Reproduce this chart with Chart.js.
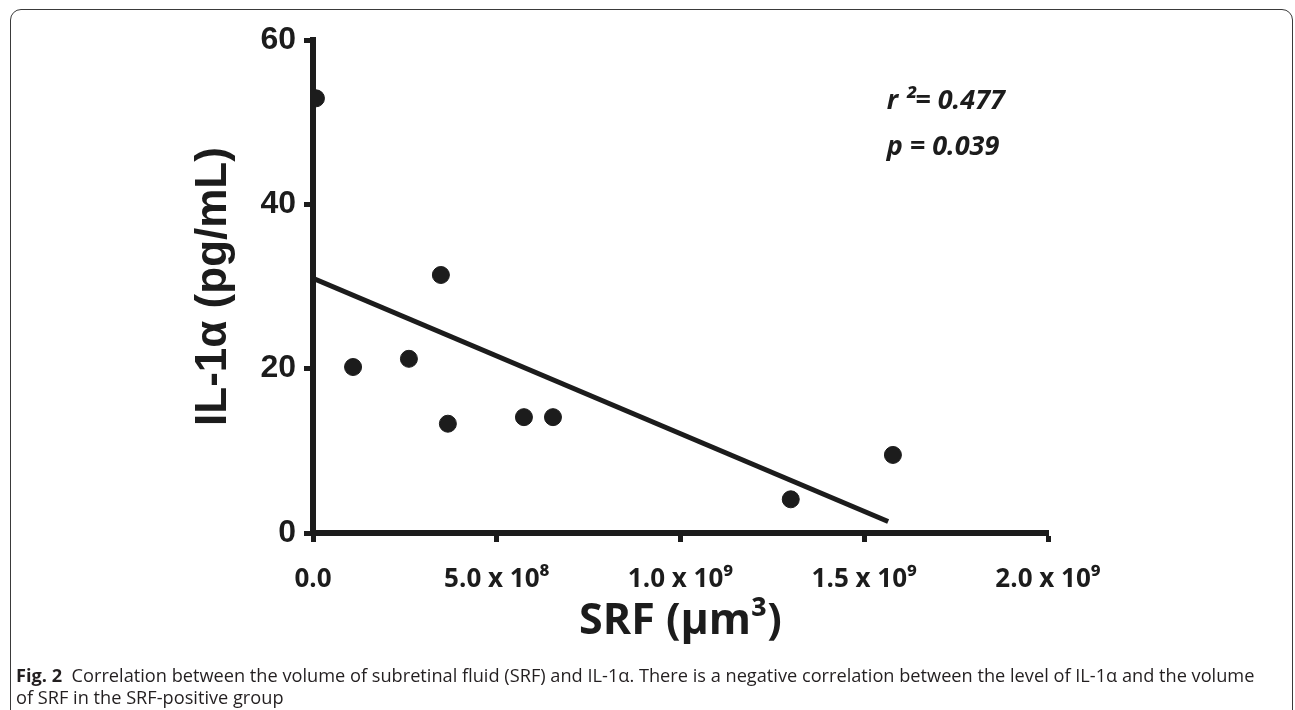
<!DOCTYPE html>
<html>
<head>
<meta charset="utf-8">
<script src="https://cdn.jsdelivr.net/npm/chart.js@4"></script>
<style>
  body { margin: 0; background: #fff; width: 1295px; height: 710px; overflow: hidden; position: relative; }
  #frame { position: absolute; left: 10px; top: 9px; width: 1283px; height: 800px;
           border: 1.4px solid #3a3a3a; border-radius: 11px; box-sizing: border-box; }
  #wrap { position: absolute; left: 0; top: 0; width: 1295px; height: 710px; }
  #caption { position: absolute; left: 16px; top: 664px; font-family: "Open Sans", sans-serif;
             font-size: 18.2px; line-height: 22px; color: #231f20; white-space: nowrap; }
</style>
</head>
<body>
<div id="frame"></div>
<div id="wrap"><canvas id="scatterChart" width="1295" height="710"></canvas></div>
<div id="caption"><b>Fig. 2</b>&nbsp; Correlation between the volume of subretinal fluid (SRF) and IL-1α. There is a negative correlation between the level of IL-1α and the volume<br>of SRF in the SRF-positive group</div>
<script>
// SRF volume (µm³) vs IL-1α (pg/mL)
const srfVolume = [0.008e9, 0.109e9, 0.261e9, 0.348e9, 0.367e9, 0.574e9, 0.653e9, 1.30e9, 1.578e9]
const il1a = [52.9, 20.2, 21.2, 31.4, 13.3, 14.1, 14.1, 4.1, 9.5]

// regression line end points
const fitX = [0, 1.565e9]
const fitY = [31.0, 1.4]

const xTickLabels = ['0.0', '5.0 x 10⁸', '1.0 x 10⁹', '1.5 x 10⁹', '2.0 x 10⁹']
const yTickLabels = ['0', '20', '40', '60']
const statLines = ['r ²= 0.477', 'p = 0.039']

const ink = '#1c1c1c'

const statsText = {
  id: 'statsText',
  afterDraw(chart) {
    const {ctx, scales: {x, y}} = chart
    ctx.save()
    ctx.fillStyle = ink
    ctx.font = 'italic bold 27px "Open Sans"'
    ctx.textBaseline = 'alphabetic'
    ctx.fillText(statLines[0], x.getPixelForValue(1.55e9) + 4, y.getPixelForValue(51.6))
    ctx.fillText(statLines[1], x.getPixelForValue(1.55e9) + 4, y.getPixelForValue(46.0))
    ctx.restore()
  }
}

const ctx = document.getElementById('scatterChart').getContext('2d')

new Chart(ctx, {
  type: 'scatter',
  data: {
    datasets: [{
      data: srfVolume.map((v, i) => ({x: v, y: il1a[i]})),
      backgroundColor: ink,
      borderColor: ink,
      pointRadius: 8.5,
      borderWidth: 1
    }, {
      type: 'line',
      data: fitX.map((v, i) => ({x: v, y: fitY[i]})),
      borderColor: ink,
      borderWidth: 5,
      pointRadius: 0,
      fill: false
    }]
  },
  options: {
    responsive: false,
    animation: false,
    layout: {padding: {left: 0, top: 40, right: 247, bottom: 0}},
    plugins: {legend: {display: false}, tooltip: {enabled: false}},
    scales: {
      x: {
        type: 'linear',
        min: 0,
        max: 2e9,
        afterFit: (scale) => { scale.height = 177 },
        afterBuildTicks: (scale) => {
          scale.ticks = xTickLabels.map((t, i) => ({value: i * 5e8}))
        },
        ticks: {
          color: ink,
          padding: 22,
          maxRotation: 0,
          autoSkip: false,
          font: {family: '"Open Sans"', weight: 'bold', size: 26},
          callback: (v, i) => xTickLabels[i]
        },
        grid: {drawOnChartArea: false, drawTicks: true, tickLength: 9, tickWidth: 5, tickColor: ink},
        border: {display: true, color: ink, width: 6},
        title: {
          display: true,
          text: 'SRF (µm³)',
          color: ink,
          font: {family: '"Open Sans"', weight: 'bold', size: 43},
          padding: {top: 0, bottom: 62}
        }
      },
      y: {
        min: 0,
        max: 60,
        afterFit: (scale) => { scale.width = 313 },
        afterBuildTicks: (scale) => {
          scale.ticks = yTickLabels.map((t, i) => ({value: i * 20}))
        },
        ticks: {
          color: ink,
          padding: 8,
          font: {family: '"Liberation Sans"', weight: 'bold', size: 32},
          callback: (v, i) => yTickLabels[i]
        },
        grid: {drawOnChartArea: false, drawTicks: true, tickLength: 9, tickWidth: 5, tickColor: ink},
        border: {display: true, color: ink, width: 6},
        title: {
          display: true,
          text: 'IL-1α (pg/mL)',
          color: ink,
          font: {family: '"Liberation Sans"', weight: 'bold', size: 44},
          padding: {top: 187, bottom: 0}
        }
      }
    }
  },
  plugins: [statsText]
})
</script>
</body>
</html>
